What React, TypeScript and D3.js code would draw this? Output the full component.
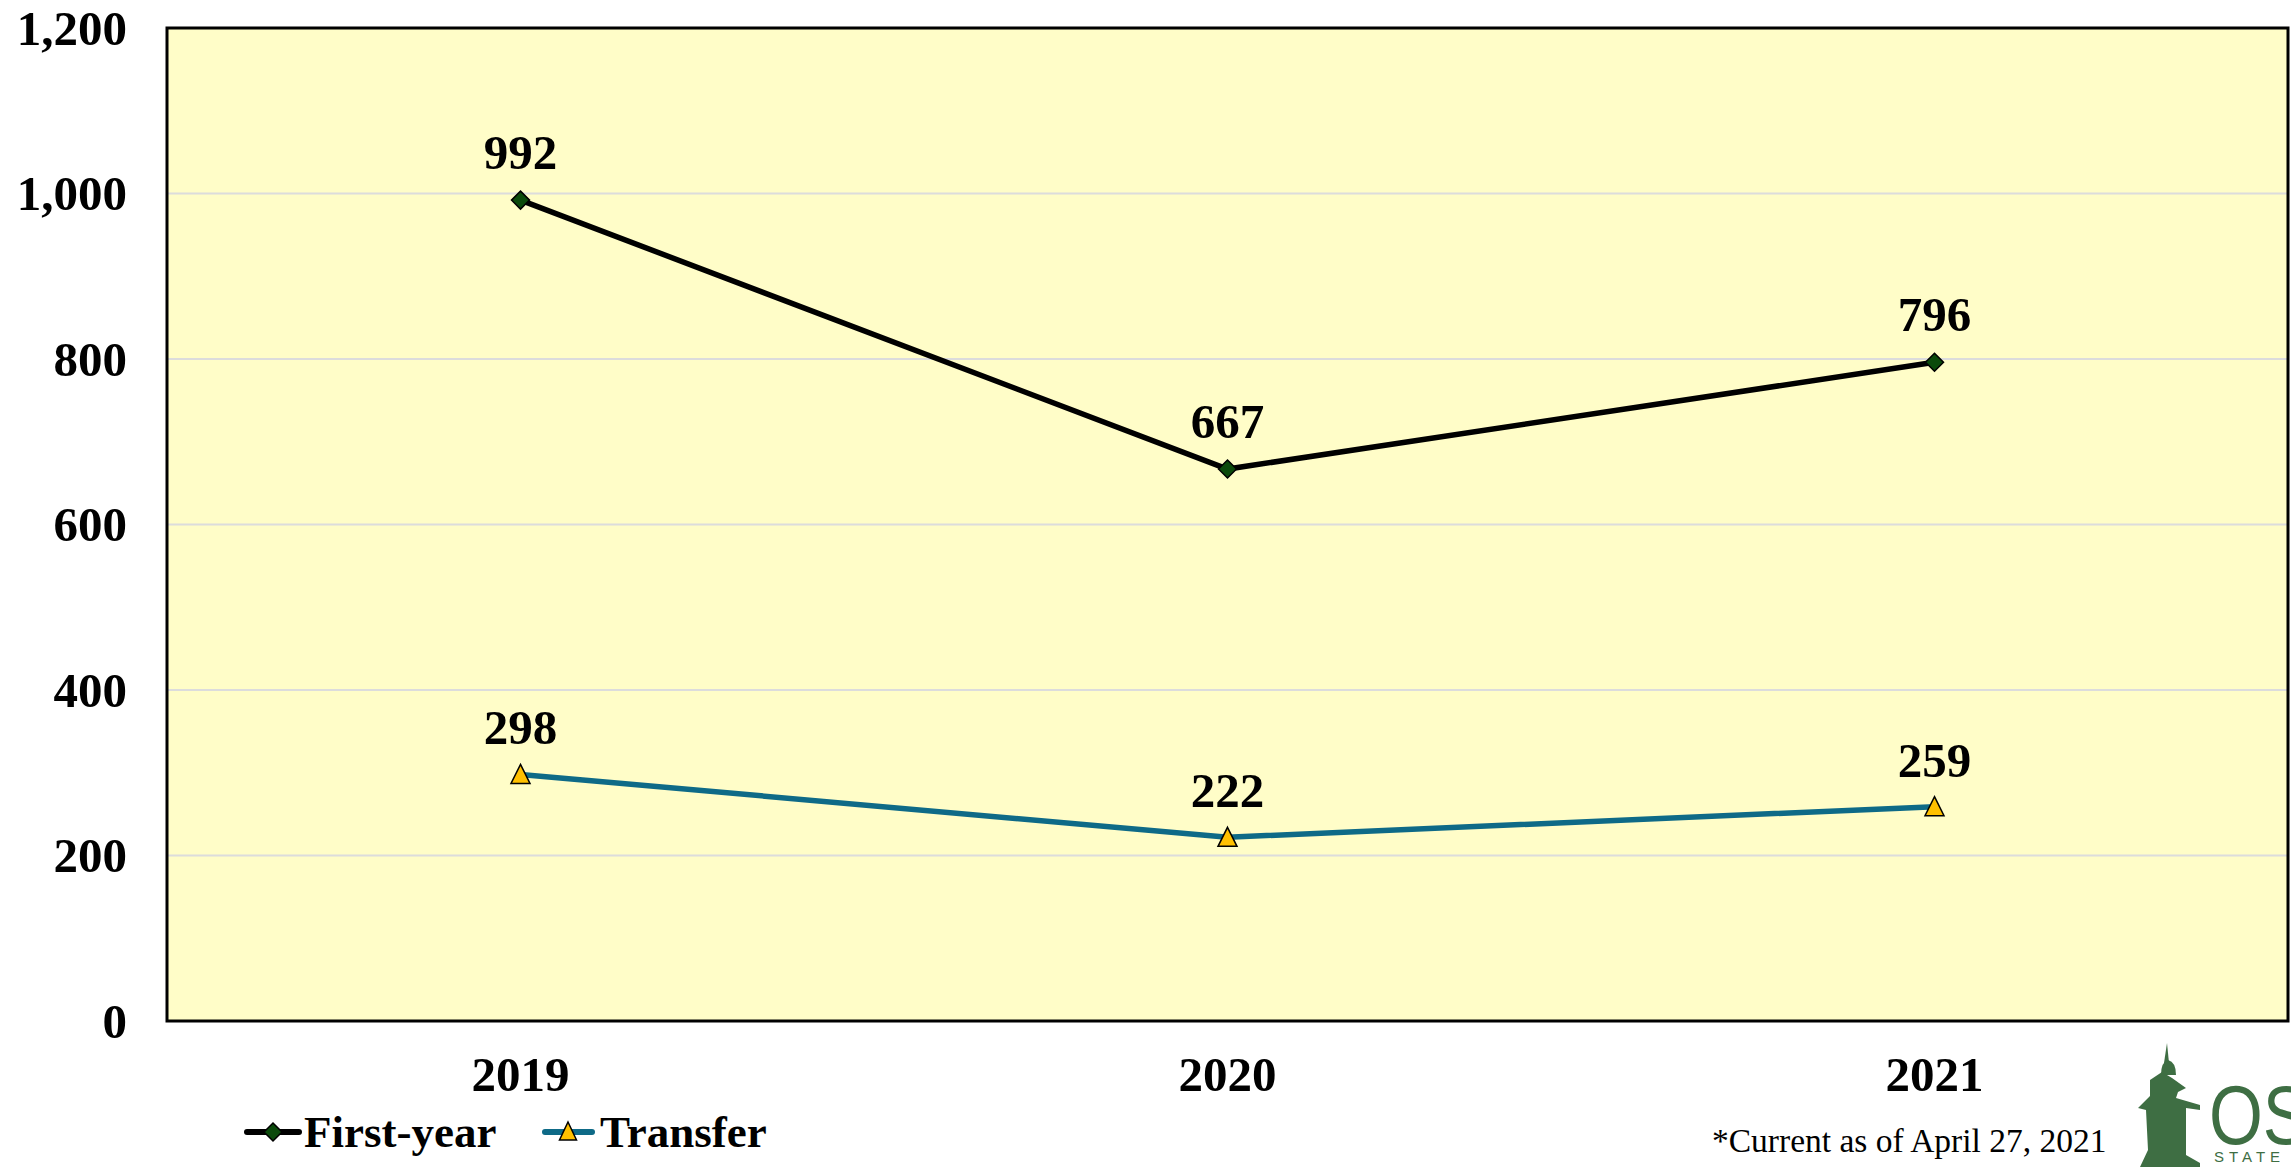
import React from "react";
import * as d3 from "d3";

const years = ["2019", "2020", "2021"];
const firstYear = [992, 667, 796];
const transfer = [298, 222, 259];
const yTicks = [0, 200, 400, 600, 800, 1000, 1200];
const seriesNames = ["First-year", "Transfer"];
const footnote = "*Current as of April 27, 2021";

const W = 2291;
const H = 1167;
const plot = { left: 167, right: 2288, top: 28, bottom: 1021 };
const FONT = "'Liberation Serif', 'Times New Roman', serif";

const diamond = (r: number) => `M0,${-r}L${r},0L0,${r}L${-r},0Z`;
const triangle = (w: number, up: number, down: number) =>
  `M0,${-up}L${w / 2},${down}L${-w / 2},${down}Z`;

export default function App() {
  const x = d3.scaleBand().domain(years).range([plot.left, plot.right]).padding(0);
  const cx = (yr: string) => (x(yr) ?? 0) + x.bandwidth() / 2;
  const y = d3.scaleLinear().domain([0, 1200]).range([plot.bottom, plot.top]);
  const fmt = d3.format(",");

  const line = d3
    .line<number>()
    .x((_, i) => cx(years[i]))
    .y((d) => y(d));

  return (
    <svg
      width={W}
      height={H}
      viewBox={`0 0 ${W} ${H}`}
      style={{ position: "absolute", left: 0, top: 0, background: "#fff" }}
      fontFamily={FONT}
    >
      {/* plot area */}
      <rect
        x={plot.left}
        y={plot.top}
        width={plot.right - plot.left}
        height={plot.bottom - plot.top}
        fill="#FFFDC8"
      />
      {yTicks.slice(1, -1).map((t) => (
        <line
          key={t}
          x1={plot.left}
          x2={plot.right}
          y1={y(t)}
          y2={y(t)}
          stroke="#dcdcdc"
          strokeWidth={2}
        />
      ))}
      <rect
        x={plot.left}
        y={plot.top}
        width={plot.right - plot.left}
        height={plot.bottom - plot.top}
        fill="none"
        stroke="#000"
        strokeWidth={3}
      />

      {/* y axis labels */}
      {yTicks.map((t) => (
        <text
          key={t}
          x={127}
          y={y(t)}
          dy="0.34em"
          textAnchor="end"
          fontSize={49}
          fontWeight="bold"
        >
          {fmt(t)}
        </text>
      ))}

      {/* x axis labels */}
      {years.map((yr) => (
        <text
          key={yr}
          x={cx(yr)}
          y={1091}
          textAnchor="middle"
          fontSize={49}
          fontWeight="bold"
        >
          {yr}
        </text>
      ))}

      {/* series lines */}
      <path d={line(transfer) ?? ""} fill="none" stroke="#0E6A87" strokeWidth={5.5} />
      <path d={line(firstYear) ?? ""} fill="none" stroke="#000" strokeWidth={5.5} />

      {/* markers */}
      {firstYear.map((v, i) => (
        <path
          key={"f" + i}
          d={diamond(9)}
          transform={`translate(${cx(years[i])},${y(v)})`}
          fill="#0B4A0B"
          stroke="#000"
          strokeWidth={1.5}
        />
      ))}
      {transfer.map((v, i) => (
        <path
          key={"t" + i}
          d={triangle(19, 10, 9)}
          transform={`translate(${cx(years[i])},${y(v)})`}
          fill="#FFC000"
          stroke="#000"
          strokeWidth={1.5}
        />
      ))}

      {/* data labels */}
      {firstYear.map((v, i) => (
        <text
          key={"lf" + i}
          x={cx(years[i])}
          y={y(v) - 31}
          textAnchor="middle"
          fontSize={49}
          fontWeight="bold"
        >
          {v}
        </text>
      ))}
      {transfer.map((v, i) => (
        <text
          key={"lt" + i}
          x={cx(years[i])}
          y={y(v) - 30}
          textAnchor="middle"
          fontSize={49}
          fontWeight="bold"
        >
          {v}
        </text>
      ))}

      {/* legend */}
      <g transform="translate(0,1132)">
        <line x1={247} x2={299} stroke="#000" strokeWidth={6} strokeLinecap="round" />
        <path d={diamond(9)} transform="translate(273,0)" fill="#0B4A0B" stroke="#000" strokeWidth={1.5} />
        <text x={304} y={15} fontSize={45} fontWeight="bold">
          {seriesNames[0]}
        </text>
        <line x1={545} x2={592} stroke="#0E6A87" strokeWidth={6} strokeLinecap="round" />
        <path d={triangle(17, 10, 8)} transform="translate(568,0)" fill="#FFC000" stroke="#000" strokeWidth={1.5} />
        <text x={600} y={15} fontSize={45} fontWeight="bold">
          {seriesNames[1]}
        </text>
      </g>

      {/* footnote */}
      <text x={1712} y={1152} fontSize={33.5}>
        {footnote}
      </text>

      {/* logo */}
      <g fill="#3E6E43">
        <path d="M2167,1043 L2169,1063 L2164,1063 Z" />
        <path d="M2161,1075 Q2161,1062 2168,1060 Q2176,1062 2176,1075 Z" />
        <path d="M2150,1080 L2162,1072 L2172,1078 L2186,1088 L2178,1092 L2176,1098 L2200,1105 L2200,1110 L2186,1108 L2186,1155 L2200,1163 L2200,1167 L2140,1167 L2148,1150 L2146,1110 L2138,1108 L2150,1096 Z" />
        <text
          x={2209}
          y={1144}
          fontFamily="'Liberation Sans', Arial, sans-serif"
          fontSize={84}
          textLength={100}
          lengthAdjust="spacingAndGlyphs"
        >
          OS
        </text>
        <text
          x={2214}
          y={1162}
          fontFamily="'Liberation Sans', Arial, sans-serif"
          fontSize={15}
          letterSpacing={5}
        >
          STATE UN
        </text>
      </g>
    </svg>
  );
}
